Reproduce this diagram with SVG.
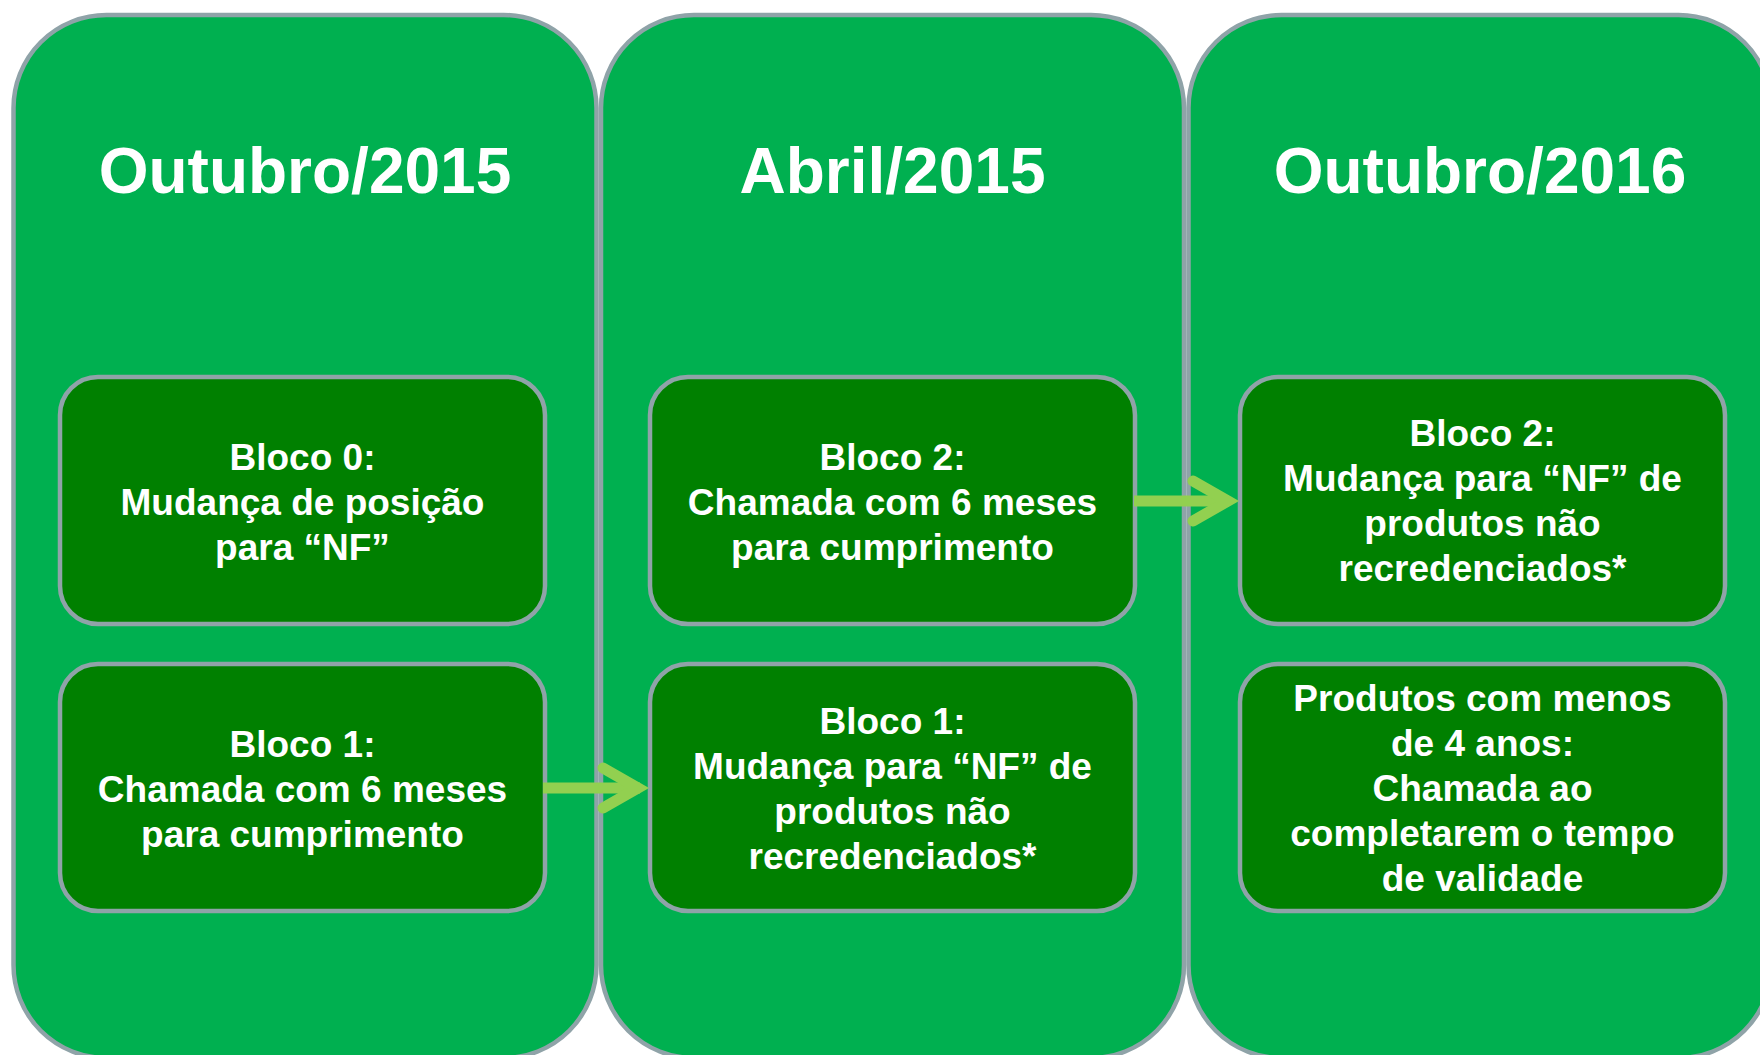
<svg xmlns="http://www.w3.org/2000/svg" width="1760" height="1055" viewBox="0 0 1760 1055">
<style>
.col{fill:#00B050;stroke:#8FA3A8;stroke-width:4.5}
.box{fill:#008000;stroke:#8FA3A8;stroke-width:4.5}
.title{font-family:"Liberation Sans",Arial,sans-serif;font-weight:bold;font-size:64px;fill:#FFFFFF;text-anchor:middle}
.t{font-family:"Liberation Sans",Arial,sans-serif;font-weight:bold;font-size:37px;fill:#FFFFFF;text-anchor:middle}
.arr{fill:none;stroke:#92D050;stroke-width:11}
</style>
<rect width="1760" height="1055" fill="#FFFFFF"/>
<g id="col1">
<rect class="col" x="13.5" y="15" width="583" height="1043" rx="93" ry="93"/>
<text class="title" x="305" y="193">Outubro/2015</text>
</g>
<g id="col2">
<rect class="col" x="601" y="15" width="583" height="1043" rx="93" ry="93"/>
<text class="title" x="892.5" y="193">Abril/2015</text>
</g>
<g id="col3">
<rect class="col" x="1188.5" y="15" width="583" height="1043" rx="93" ry="93"/>
<text class="title" x="1480" y="193">Outubro/2016</text>
</g>
<g id="box-c1-top">
<rect class="box" x="60" y="377" width="485" height="247" rx="38" ry="38"/>
<text class="t" x="302.5" y="470">Bloco 0:</text>
<text class="t" x="302.5" y="515">Mudança de posição</text>
<text class="t" x="302.5" y="560">para “NF”</text>
</g>
<g id="box-c1-bottom">
<rect class="box" x="60" y="664" width="485" height="247" rx="38" ry="38"/>
<text class="t" x="302.5" y="757">Bloco 1:</text>
<text class="t" x="302.5" y="802">Chamada com 6 meses</text>
<text class="t" x="302.5" y="847">para cumprimento</text>
</g>
<g id="box-c2-top">
<rect class="box" x="650" y="377" width="485" height="247" rx="38" ry="38"/>
<text class="t" x="892.5" y="470">Bloco 2:</text>
<text class="t" x="892.5" y="515">Chamada com 6 meses</text>
<text class="t" x="892.5" y="560">para cumprimento</text>
</g>
<g id="box-c2-bottom">
<rect class="box" x="650" y="664" width="485" height="247" rx="38" ry="38"/>
<text class="t" x="892.5" y="734">Bloco 1:</text>
<text class="t" x="892.5" y="779">Mudança para “NF” de</text>
<text class="t" x="892.5" y="824">produtos não</text>
<text class="t" x="892.5" y="869">recredenciados*</text>
</g>
<g id="box-c3-top">
<rect class="box" x="1240" y="377" width="485" height="247" rx="38" ry="38"/>
<text class="t" x="1482.5" y="446">Bloco 2:</text>
<text class="t" x="1482.5" y="491">Mudança para “NF” de</text>
<text class="t" x="1482.5" y="536">produtos não</text>
<text class="t" x="1482.5" y="581">recredenciados*</text>
</g>
<g id="box-c3-bottom">
<rect class="box" x="1240" y="664" width="485" height="247" rx="38" ry="38"/>
<text class="t" x="1482.5" y="711">Produtos com menos</text>
<text class="t" x="1482.5" y="756">de 4 anos:</text>
<text class="t" x="1482.5" y="801">Chamada ao</text>
<text class="t" x="1482.5" y="846">completarem o tempo</text>
<text class="t" x="1482.5" y="891">de validade</text>
</g>
<g id="connectors">
<path class="arr" d="M543,788 H640"/>
<path class="arr" d="M603,768 L638,788 L603,808" stroke-linecap="round" stroke-linejoin="miter"/>
<path class="arr" d="M1134,501 H1229"/>
<path class="arr" d="M1193,481 L1228,501 L1193,521" stroke-linecap="round" stroke-linejoin="miter"/>
</g>
</svg>
